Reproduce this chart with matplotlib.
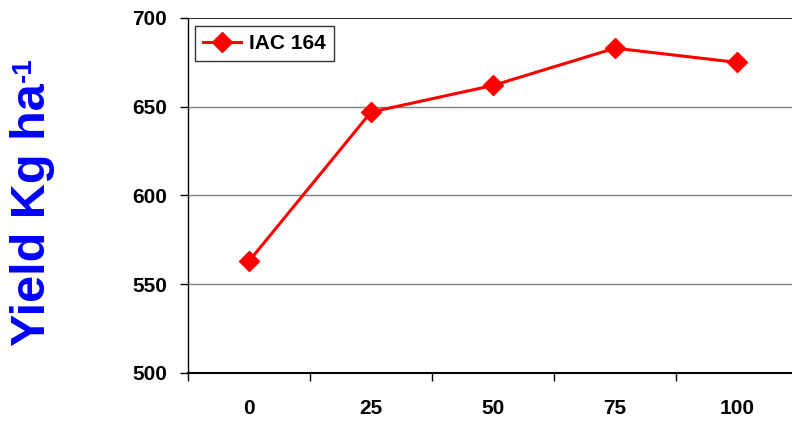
import matplotlib.pyplot as plt
from matplotlib.ticker import FixedLocator

# yield for each dose level
doses = ['0', '25', '50', '75', '100']
yield_iac164 = [563, 647, 662, 683, 675]

plt.rcParams['font.family'] = ['Liberation Sans', 'DejaVu Sans']
plt.rcParams['font.weight'] = 'bold'

W, H = 792, 423
fig = plt.figure(figsize=(W / 100, H / 100), dpi=100)
ax = fig.add_axes([188 / W, 50 / H, 610 / W, 355 / H])

x = list(range(len(doses)))
ax.plot(x, yield_iac164, color='#ff0000', lw=2.2, marker='D', markersize=10,
        label='IAC 164', zorder=3)

ax.set_xlim(-0.5, len(doses) - 0.5)
ax.set_ylim(500, 700)
ax.set_yticks([500, 550, 600, 650, 700])

# category labels centred, tick marks between categories
ax.set_xticks(x)
ax.set_xticklabels(doses)
ax.xaxis.set_minor_locator(FixedLocator([i - 0.5 for i in range(len(doses) + 1)]))
ax.tick_params(axis='x', which='major', length=0, pad=19, labelsize=15)
ax.tick_params(axis='x', which='minor', length=6, width=1, direction='out')
ax.tick_params(axis='y', length=6, width=1, pad=9, labelsize=15)

# horizontal grid
for v in [550, 600, 650]:
    ax.axhline(v, color='#808080', lw=1, zorder=1)
ax.axhline(700, color='black', lw=1.2, zorder=1)

for s in ['top', 'right']:
    ax.spines[s].set_visible(False)
ax.spines['left'].set_linewidth(1)
ax.spines['bottom'].set_linewidth(1.5)

# y label, superscript placed just above the end of the main text
ylab = fig.text(33 / W, 1 - 346 / H, 'Yield Kg ha', color='#0000ff',
                fontsize=35, fontweight='bold', rotation=90, ha='center', va='bottom')
bb = ylab.get_window_extent(renderer=fig.canvas.get_renderer())
fig.text(bb.x0 / W, (bb.y1 + 1) / H, '-1', color='#0000ff',
         fontsize=20, fontweight='bold', rotation=90, ha='left', va='bottom')

leg = ax.legend(loc='upper left', bbox_to_anchor=(0.011, 0.978), fontsize=15,
                frameon=True, fancybox=False, edgecolor='black',
                handlelength=1.8, borderpad=0.4, handletextpad=0.4,
                borderaxespad=0)
leg.get_frame().set_linewidth(1)

fig.savefig('out.png', dpi=100)
